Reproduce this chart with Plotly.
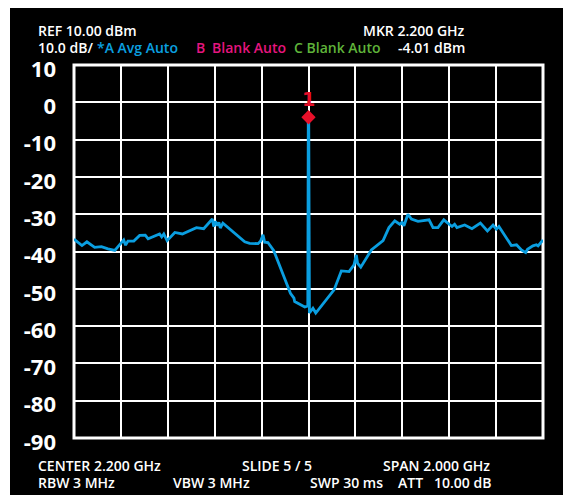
import plotly.graph_objects as go

# ---------------- data ----------------
freq_ghz = [1.200, 1.234, 1.255, 1.288, 1.317, 1.345, 1.374, 1.412, 1.420, 1.430,
            1.455, 1.480, 1.504, 1.516, 1.565, 1.574, 1.583, 1.597, 1.630, 1.662,
            1.722, 1.753, 1.790, 1.796, 1.803, 1.812, 1.818, 1.824, 1.835, 1.875,
            1.928, 1.949, 1.985, 1.996, 2.006, 2.013, 2.027, 2.052, 2.091, 2.123,
            2.138, 2.141, 2.184, 2.194, 2.197, 2.199, 2.201, 2.204, 2.219, 2.231,
            2.309, 2.340, 2.373, 2.394, 2.404, 2.409, 2.423, 2.468, 2.518, 2.543,
            2.568, 2.589, 2.599, 2.607, 2.624, 2.639, 2.667, 2.714, 2.731, 2.752,
            2.777, 2.812, 2.823, 2.833, 2.866, 2.897, 2.933, 2.963, 2.987, 3.001,
            3.012, 3.065, 3.087, 3.108, 3.126, 3.134, 3.157, 3.172, 3.179, 3.200]
level_dbm = [-36.7, -38.4, -37.4, -38.9, -38.7, -39.3, -39.7, -36.9, -38.3, -37.2,
             -37.2, -35.7, -35.6, -36.6, -35.3, -36.1, -35.3, -37.1, -34.9, -35.3,
             -33.6, -33.9, -31.3, -33.3, -31.9, -33.1, -32.2, -33.7, -32.4, -34.5,
             -37.4, -37.8, -37.9, -37.2, -35.5, -37.5, -37.6, -39.8, -45.8, -51.2,
             -52.5, -53.4, -54.9, -54.6, -54.6, -4.01, -4.01, -56.5, -55.2, -56.5,
             -50.3, -45.2, -45.4, -43.6, -40.9, -43.1, -44.2, -39.6, -37.1, -33.6,
             -31.8, -32.7, -32.2, -33.1, -30.0, -31.3, -31.9, -31.5, -33.6, -33.6,
             -31.5, -33.3, -32.7, -33.6, -32.9, -33.9, -32.4, -34.5, -32.9, -34.0,
             -33.3, -38.4, -38.2, -39.6, -40.3, -39.4, -38.5, -38.2, -38.5, -36.9]

marker_freq = [2.200]
marker_level = [-4.01]
marker_label = ["1"]

y_ticks = [10, 0, -10, -20, -30, -40, -50, -60, -70, -80, -90]
x_start, x_stop, x_step = 1.2, 3.2, 0.2

header_items = [  # text, colour, px x, px y, anchor
    ("REF 10.00 dBm", "#ffffff", 36, 31, "left"),
    ("MKR 2.200 GHz", "#ffffff", 467, 31, "right"),
    ("10.0 dB/", "#ffffff", 36, 48, "left"),
    ("*A Avg Auto", "#0aa0e0", 95, 48, "left"),
    ("B", "#e6157f", 194, 48, "left"),
    ("Blank Auto", "#e6157f", 210, 48, "left"),
    ("C Blank Auto", "#5fb43a", 292, 48, "left"),
    ("-4.01 dBm", "#ffffff", 467, 48, "right"),
    ("CENTER 2.200 GHz", "#ffffff", 36, 465, "left"),
    ("SLIDE 5 / 5", "#ffffff", 240, 465, "left"),
    ("SPAN 2.000 GHz", "#ffffff", 381, 465, "left"),
    ("RBW 3 MHz", "#ffffff", 36, 482, "left"),
    ("VBW 3 MHz", "#ffffff", 171, 482, "left"),
    ("SWP 30 ms", "#ffffff", 308, 482, "left"),
    ("ATT\u00a0\u00a0\u00a010.00 dB", "#ffffff", 396, 482, "left"),
]

# ---------------- layout geometry ----------------
W, H = 563, 495
ML, MR, MT, MB = 74, 20, 65, 57
PW, PH = W - ML - MR, H - MT - MB


def px(x):
    return (x - ML) / PW


def py(y):
    return (H - MB - y) / PH


TRACE_BLUE = "#0a9ee0"
RED = "#e8102a"
FONT = "Open Sans"

fig = go.Figure()
fig.add_trace(go.Scatter(x=freq_ghz, y=level_dbm, mode="lines",
                         line=dict(color=TRACE_BLUE, width=2.8),
                         hoverinfo="skip", showlegend=False))
fig.add_trace(go.Scatter(x=marker_freq, y=marker_level, mode="markers",
                         marker=dict(symbol="diamond", size=11, color=RED),
                         hoverinfo="skip", showlegend=False, cliponaxis=False))

shapes = [
    dict(type="rect", xref="paper", yref="paper", x0=px(0), x1=px(W), y0=py(8), y1=py(0),
         fillcolor="white", line=dict(width=0), layer="below"),
    dict(type="rect", xref="paper", yref="paper", x0=px(0), x1=px(10), y0=py(H), y1=py(0),
         fillcolor="white", line=dict(width=0), layer="below"),
    dict(type="rect", xref="paper", yref="paper", x0=0, x1=1, y0=0, y1=1,
         line=dict(color="white", width=3), fillcolor="rgba(0,0,0,0)", layer="below"),
]

annotations = []
for text, col, x, y, anchor in header_items:
    annotations.append(dict(text=text, xref="paper", yref="paper", x=px(x), y=py(y),
                            xanchor=anchor, yanchor="middle", showarrow=False,
                            font=dict(family=FONT, size=14, color=col, weight=600)))
# marker number
annotations.append(dict(text=marker_label[0], x=marker_freq[0], y=marker_level[0],
                        xref="x", yref="y", xanchor="center", yanchor="bottom",
                        yshift=5, showarrow=False,
                        font=dict(family="DejaVu Sans", size=19, color=RED, weight="bold")))

fig.update_layout(
    width=W, height=H,
    margin=dict(l=ML, r=MR, t=MT, b=MB, pad=0),
    paper_bgcolor="black", plot_bgcolor="black",
    shapes=shapes, annotations=annotations,
    xaxis=dict(range=[x_start, x_stop], dtick=x_step, tick0=x_start,
               showgrid=True, gridcolor="white", gridwidth=2,
               showticklabels=False, zeroline=False, showline=False, ticks=""),
    yaxis=dict(range=[-90, 10], tickvals=y_ticks, ticktext=[str(v) for v in y_ticks],
               showgrid=True, gridcolor="white", gridwidth=2,
               zeroline=False, showline=False, ticks="",
               ticklabelstandoff=17, ticklabelshift=4,
               tickfont=dict(family=FONT, size=22, color="white", weight="bold")),
)

fig.write_html("out.html")
